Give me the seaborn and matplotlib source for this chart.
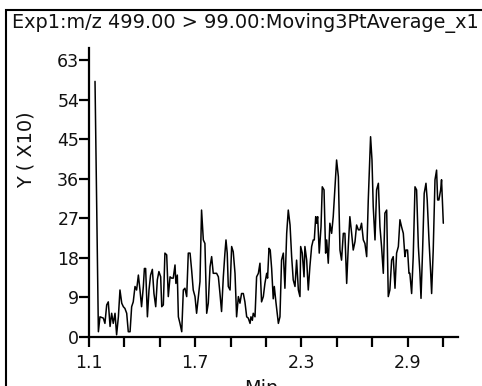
import matplotlib
matplotlib.use("Agg")
import matplotlib.pyplot as plt
import seaborn as sns
import numpy as np
import pandas as pd
from matplotlib.patches import Rectangle

title = "Exp1:m/z 499.00 > 99.00:Moving3PtAverage_x1"
ylabel = "Y ( X10)"
xlabel = "Min"
yticks = [0, 9, 18, 27, 36, 45, 54, 63]
xticks_major = [1.1, 1.7, 2.3, 2.9]
xticks_minor = [1.3, 1.5, 1.9, 2.1, 2.5, 2.7, 3.1]

time_a = [1.134, 1.153, 1.162, 1.181, 1.190, 1.200, 1.209, 1.219, 1.228, 1.237,
          1.247, 1.256, 1.266, 1.275, 1.285, 1.294, 1.303, 1.313, 1.322, 1.332,
          1.341, 1.350, 1.360, 1.369, 1.379, 1.388, 1.397, 1.407, 1.413, 1.420,
          1.430, 1.439, 1.448, 1.458, 1.467, 1.477, 1.486, 1.495, 1.505, 1.511,
          1.520, 1.529, 1.539, 1.548, 1.558, 1.567, 1.576, 1.586, 1.591, 1.599,
          1.605, 1.614, 1.624, 1.633, 1.642, 1.652, 1.661, 1.671, 1.680, 1.689,
          1.699, 1.708, 1.718, 1.727, 1.736, 1.746, 1.755, 1.765, 1.774, 1.784,
          1.793, 1.802, 1.812, 1.821, 1.831, 1.840, 1.849, 1.859, 1.868, 1.874,
          1.881, 1.887, 1.897, 1.906, 1.915, 1.925, 1.934, 1.944, 1.953, 1.962,
          1.972, 1.981, 1.991, 2.000, 2.010, 2.015, 2.023, 2.028, 2.038, 2.047,
          2.057, 2.066, 2.075, 2.085, 2.094, 2.104, 2.109, 2.117, 2.124, 2.132,
          2.141, 2.147, 2.156, 2.170, 2.179]
value_a = [58.2, 1.2, 4.6, 4.3, 3.1, 7.3, 8.0, 2.4, 5.4, 3.1,
           5.4, 0.5, 4.6, 10.7, 7.7, 6.9, 6.5, 5.4, 1.2, 1.2,
           6.9, 8.0, 11.5, 10.7, 14.1, 10.7, 6.9, 11.5, 15.6, 15.6,
           4.6, 10.7, 14.1, 15.4, 9.9, 6.9, 13.0, 14.9, 13.7, 6.9,
           7.3, 19.1, 18.7, 9.2, 13.7, 13.4, 13.4, 16.4, 12.2, 14.1,
           4.6, 3.1, 1.2, 10.7, 11.1, 9.2, 19.1, 19.1, 15.2, 10.7,
           9.2, 5.4, 9.2, 12.6, 28.9, 22.1, 21.3, 5.4, 7.7, 16.0,
           18.3, 14.5, 14.5, 14.5, 13.7, 9.9, 5.8, 13.7, 19.1, 22.1,
           19.1, 11.5, 10.7, 20.6, 19.4, 14.5, 4.6, 9.2, 7.7, 9.9,
           9.9, 8.0, 4.6, 4.3, 3.1, 4.6, 3.8, 5.4, 4.6, 13.7,
           14.5, 16.8, 8.0, 9.2, 12.2, 14.5, 13.4, 20.2, 19.8, 15.6,
           8.7, 11.5, 8.0, 3.1, 4.6]

time_b = [2.188, 2.198, 2.207, 2.217, 2.226, 2.236, 2.245, 2.254, 2.264, 2.273,
          2.283, 2.292, 2.296, 2.305, 2.315, 2.320, 2.330, 2.339, 2.348, 2.358,
          2.367, 2.373, 2.381, 2.386, 2.392, 2.401, 2.411, 2.418, 2.428, 2.437,
          2.443, 2.452, 2.461, 2.471, 2.480, 2.490, 2.499, 2.509, 2.518, 2.527,
          2.537, 2.546, 2.556, 2.565, 2.574, 2.584, 2.593, 2.603, 2.612, 2.622,
          2.631, 2.640, 2.650, 2.659, 2.669, 2.678, 2.687, 2.691, 2.699, 2.706,
          2.716, 2.725, 2.735, 2.744, 2.753, 2.763, 2.772, 2.782, 2.791, 2.800,
          2.810, 2.819, 2.829, 2.838, 2.848, 2.857, 2.866, 2.876, 2.885, 2.891,
          2.900, 2.908, 2.913, 2.923, 2.932, 2.942, 2.951, 2.961, 2.970, 2.976,
          2.985, 2.994, 3.004, 3.011, 3.021, 3.030, 3.036, 3.045, 3.055, 3.064,
          3.070, 3.077, 3.087, 3.092, 3.102]
value_b = [17.5, 19.1, 11.1, 23.6, 28.9, 25.5, 18.3, 13.0, 11.5, 17.5,
           10.7, 9.2, 20.6, 19.1, 13.7, 20.6, 17.5, 10.7, 16.0, 20.6,
           22.1, 22.1, 27.4, 25.9, 27.4, 19.1, 25.1, 34.2, 33.5, 19.1,
           22.1, 16.8, 25.9, 23.6, 27.4, 34.2, 40.3, 36.5, 19.8, 17.5,
           23.6, 23.6, 12.2, 20.6, 27.4, 23.6, 19.8, 21.7, 25.5, 24.4,
           24.4, 25.9, 22.1, 21.3, 18.3, 31.2, 41.1, 45.6, 40.3, 29.7,
           22.1, 33.5, 35.0, 25.1, 20.6, 14.5, 28.2, 28.9, 9.2, 10.7,
           17.5, 18.3, 11.1, 19.1, 20.6, 26.7, 25.1, 23.6, 18.3, 19.8,
           19.8, 14.5, 14.5, 9.9, 18.3, 34.2, 33.5, 20.6, 14.5, 8.8,
           19.8, 32.7, 35.0, 31.2, 22.1, 15.2, 9.9, 19.8, 35.8, 38.0,
           31.2, 31.2, 33.5, 35.8, 25.9]

df = pd.DataFrame({"Min": time_a + time_b, "Y": value_a + value_b})

sns.set_theme(style="white")
plt.rcParams["font.family"] = ["DejaVu Sans"]

W, H = 482, 386
FS = 12.5
FS_LABEL = 13.9
fig = plt.figure(figsize=(W / 100, H / 100), dpi=100)
fig.patch.set_facecolor("white")

ax = fig.add_axes([89 / W, 49 / H, (458 - 89) / W, (337 - 48) / H])
sns.lineplot(data=df, x="Min", y="Y", ax=ax, color="black", linewidth=1.1,
             sort=False, estimator=None)
ax.set_xlim(1.1, 3.185)
ax.set_ylim(0, 65.8)
ax.set_facecolor("white")
for s in ["top", "right"]:
    ax.spines[s].set_visible(False)
for s in ["left", "bottom"]:
    ax.spines[s].set_color("black")
    ax.spines[s].set_linewidth(1.6)
ax.set_yticks(yticks)
ax.set_yticklabels([str(v) for v in yticks])
ax.set_xticks(xticks_major)
ax.set_xticklabels([f"{v:.1f}" for v in xticks_major])
ax.set_xticks(xticks_minor, minor=True)
ax.tick_params(axis="both", which="both", direction="out", length=7, width=1.6,
               color="black", labelsize=FS, labelcolor="#111111",
               bottom=True, left=True)
ax.tick_params(axis="y", pad=0)
ax.tick_params(axis="x", pad=5)
ax.set_xlabel("")
ax.set_ylabel("")

fig.text(12 / W, 1 - 28 / H, title, ha="left", va="baseline", fontsize=FS_LABEL, color="#111111")
fig.text(26 / W, 1 - 150 / H, ylabel, rotation=90, ha="center", va="center",
         fontsize=FS_LABEL, color="#111111")
fig.text(261 / W, 1 - 379 / H, xlabel, ha="center", va="top", fontsize=FS_LABEL, color="#111111")

fig.patches.append(Rectangle((6 / W, -0.1), 1.2, 1 - 10 / H + 0.1, transform=fig.transFigure,
                             fill=False, edgecolor="black", linewidth=1.5, clip_on=False))

fig.savefig("out.png", dpi=100, facecolor="white")
